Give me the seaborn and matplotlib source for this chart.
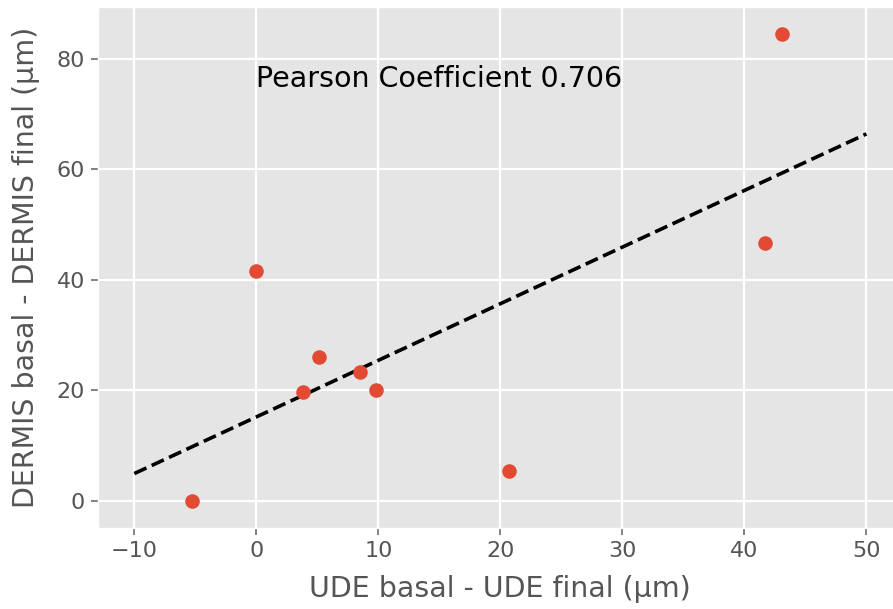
import numpy as np
import pandas as pd
import matplotlib
matplotlib.use("Agg")
import matplotlib.pyplot as plt
import seaborn as sns

# Data
ude_diff = [-5.3, 0.0, 3.8, 5.1, 8.5, 9.8, 20.7, 41.7, 43.1]
dermis_diff = [0.0, 41.6, 19.6, 26.0, 23.3, 20.1, 5.3, 46.7, 84.5]
fit_x_range = [-10, 50]
annotation = "Pearson Coefficient 0.706"
x_label = "UDE basal - UDE final (µm)"
y_label = "DERMIS basal - DERMIS final (µm)"
x_ticks = [-10, 0, 10, 20, 30, 40, 50]
y_ticks = [0, 20, 40, 60, 80]

df = pd.DataFrame({"x": ude_diff, "y": dermis_diff})

plt.style.use("ggplot")
plt.rcParams["font.family"] = ["DejaVu Sans"]

fig = plt.figure(figsize=(8.93, 6.09), dpi=100)
ax = fig.add_axes([0.1094, 0.1325, 0.9018, 0.8560])

# regression line computed from the data
slope, intercept = np.polyfit(df["x"], df["y"], 1)
fx = np.array(fit_x_range, dtype=float)
fit_df = pd.DataFrame({"x": fx, "y": slope * fx + intercept})
sns.lineplot(data=fit_df, x="x", y="y", ax=ax, color="black",
             linestyle="--", linewidth=2.6, zorder=3)

sns.scatterplot(data=df, x="x", y="y", ax=ax, color="#E24A33", s=110,
                linewidth=0, zorder=4)

ax.text(0, 75, annotation, fontsize=20.5, color="black")

ax.set_xlim(-13.0, 53.0)
ax.set_ylim(-5.0, 89.4)
ax.set_xticks(x_ticks)
ax.set_yticks(y_ticks)
ax.grid(True, color="white", linewidth=1.6)
ax.set_axisbelow(True)
ax.tick_params(labelsize=16, colors="#777777", length=5, width=1.3,
               labelcolor="#555555", pad=4)
ax.set_xlabel(x_label, fontsize=20.5, color="#555555", labelpad=10)
ax.set_ylabel(y_label, fontsize=20.5, color="#555555", labelpad=12)

fig.savefig("out.png", dpi=100)
